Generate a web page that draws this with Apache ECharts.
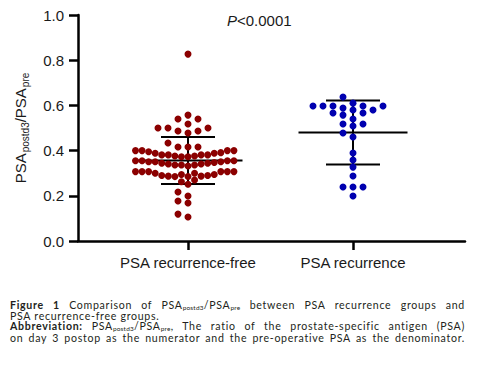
<!DOCTYPE html>
<html>
<head>
<meta charset="utf-8">
<script src="https://cdn.jsdelivr.net/npm/echarts@6/dist/echarts.min.js"></script>
<style>
  html, body { margin: 0; padding: 0; background: #fff; }
  #wrap { position: relative; width: 478px; height: 381px; overflow: hidden; background: #fff; }
  #chart { position: absolute; left: 0; top: 0; width: 478px; height: 381px; }
  #cap { position: absolute; left: 10px; top: 300px; width: 455px; height: 44px; font-family: Lato, "Open Sans", sans-serif;
         font-size: 10.6px; letter-spacing: 0.7px; color: #231f20; }
  #cap .ln { position: absolute; left: 0; width: 455px; height: 10.5px; line-height: 10.5px; white-space: nowrap; }
  #cap .j { text-align: justify; text-align-last: justify; white-space: normal; overflow: visible; }
  #cap .l1 { top: 0px; }
  #cap .l2 { top: 10.7px; }
  #cap .l3 { top: 21.2px; }
  #cap .l4 { top: 32.6px; }
  #cap sub { font-size: 6.5px; vertical-align: -1px; line-height: 0; letter-spacing: 0.2px; }
  #cap b { font-weight: 700; }
</style>
</head>
<body>
<div id="wrap">
  <div id="chart"></div>
  <div id="cap">
    <div class="ln j l1"><b>Figure 1</b> Comparison of PSA<sub>postd3</sub>/PSA<sub>pre</sub> between PSA recurrence groups and</div>
    <div class="ln l2">PSA recurrence-free groups.</div>
    <div class="ln j l3"><b>Abbreviation:</b> PSA<sub>postd3</sub>/PSA<sub>pre</sub>, The ratio of the prostate-specific antigen (PSA)</div>
    <div class="ln j l4">on day 3 postop as the numerator and the pre-operative PSA as the denominator.</div>
  </div>
</div>
<script>
// ---- data ----
const categories = ['PSA recurrence-free', 'PSA recurrence'];

const recurrenceFree = [
  0.827,
  0.557, 0.540, 0.540,
  0.518, 0.500, 0.500, 0.500, 0.487, 0.487, 0.478,
  0.434, 0.416, 0.416, 0.416,
  0.400, 0.400, 0.400, 0.400, 0.395, 0.391, 0.388, 0.388, 0.381, 0.381, 0.381, 0.381, 0.376, 0.376, 0.373, 0.373,
  0.355, 0.355, 0.355, 0.355, 0.351, 0.351, 0.351, 0.347, 0.344, 0.344, 0.341, 0.341, 0.336, 0.336, 0.336, 0.332,
  0.307, 0.307, 0.307, 0.307, 0.307, 0.307, 0.300, 0.300, 0.294, 0.294, 0.290, 0.290, 0.287, 0.287, 0.285, 0.285,
  0.270, 0.262, 0.251,
  0.217, 0.199, 0.177, 0.168, 0.119, 0.106
];

const recurrence = [
  0.637, 0.610,
  0.597, 0.597, 0.597, 0.597, 0.597, 0.588, 0.580, 0.580, 0.566, 0.566, 0.557,
  0.540, 0.518, 0.518, 0.509, 0.478, 0.460,
  0.389, 0.358, 0.327, 0.288, 0.239, 0.239, 0.239, 0.199
];

const groupMean = [0.356, 0.480];
const groupSD = [0.104, 0.142];

const yMin = 0, yMax = 1.0, yStep = 0.2;
const pText = 'P<0.0001';

// ---- layout / style ----
const W = 478, H = 381;
const grid = { left: 78, right: 13, top: 15, bottom: 140 };
const xMin = -0.6667, xMax = 1.6788;
const pxPerX = (W - grid.left - grid.right) / (xMax - xMin);
const pxPerY = (H - grid.top - grid.bottom) / (yMax - yMin);
const FONT = '"Liberation Sans", Arial, sans-serif';
const DOT_GAP = 10;        // px between neighbouring dots
const ROW_H = 6.5;         // px: dots closer than this vertically share a row
const MAX_HALF = 52.5;     // px: widest half-width of a row before it is squeezed

// beeswarm: place each point (ascending) at the nearest free horizontal slot
function swarm(values, d, h) {
  const order = values.map((v, i) => i).sort((a, b) => values[a] - values[b]);
  const placed = [];
  const xs = new Array(values.length);
  const ys = values.map(v => v * pxPerY);
  const step = d / 2;
  for (const i of order) {
    const y = ys[i];
    for (let k = 0; k < 400; k++) {
      const cands = k === 0 ? [0] : [-k * step, k * step];
      let found = null;
      for (const x of cands) {
        const ok = placed.every(p => Math.abs(xs[p] - x) >= d - 1e-6 || Math.abs(ys[p] - y) >= h);
        if (ok) { found = x; break; }
      }
      if (found !== null) { xs[i] = found; placed.push(i); break; }
    }
  }
  // squeeze over-wide rows (connected side-by-side dots) to the column width
  const parent = values.map((v, i) => i);
  const find = a => parent[a] === a ? a : (parent[a] = find(parent[a]));
  for (let a = 0; a < values.length; a++) {
    for (let b = a + 1; b < values.length; b++) {
      if (Math.abs(ys[a] - ys[b]) < h && Math.abs(xs[a] - xs[b]) <= d + 0.01) {
        parent[find(a)] = find(b);
      }
    }
  }
  const half = {};
  values.forEach((v, i) => { const r = find(i); half[r] = Math.max(half[r] || 0, Math.abs(xs[i])); });
  return xs.map((x, i) => {
    const hw = half[find(i)];
    return hw > MAX_HALF ? x * MAX_HALF / hw : x;
  });
}

function swarmData(values, catIndex) {
  const xs = swarm(values, DOT_GAP, ROW_H);
  return values.map((v, i) => [catIndex + xs[i] / pxPerX, v]);
}

const chart = echarts.init(document.getElementById('chart'), null, { renderer: 'svg', width: W, height: H });

const errData = groupMean.map((m, i) => [i, m, groupSD[i]]);

chart.setOption({
  animation: false,
  backgroundColor: '#fff',
  grid: grid,
  xAxis: {
    type: 'value', min: xMin, max: xMax,
    axisLine: { show: true, onZero: false, lineStyle: { color: '#000', width: 2.5 } },
    axisTick: { show: true, customValues: [0, 1], length: 9, lineStyle: { color: '#000', width: 2.5 } },
    axisLabel: { customValues: [0, 1], formatter: v => categories[Math.round(v)] || '',
                 fontSize: 15, color: '#1a1a1a', margin: 14, fontFamily: FONT },
    splitLine: { show: false }
  },
  yAxis: {
    type: 'value', min: yMin, max: yMax, interval: yStep,
    axisLine: { show: true, onZero: false, lineStyle: { color: '#000', width: 2.5 } },
    axisTick: { show: true, length: 9, lineStyle: { color: '#000', width: 2.5 } },
    axisLabel: { formatter: v => v.toFixed(1), fontSize: 15, color: '#1a1a1a', margin: 14, fontFamily: FONT },
    splitLine: { show: false },
    name: '{a|PSA}{s|postd3}{a|/PSA}{s|pre}',
    nameLocation: 'middle', nameGap: 48, nameRotate: 90,
    nameTextStyle: {
      rich: {
        a: { fontSize: 15, color: '#1a1a1a', fontFamily: FONT, lineHeight: 20, verticalAlign: 'middle' },
        s: { fontSize: 10, color: '#1a1a1a', fontFamily: FONT, lineHeight: 10, verticalAlign: 'bottom', padding: [7, 0, 0, 1] }
      }
    }
  },
  graphic: [{
    type: 'text', left: 227, top: 13,
    style: {
      text: '{i|P}{n|' + pText.slice(1) + '}',
      rich: {
        i: { fontSize: 15, fontStyle: 'italic', fontFamily: FONT, fill: '#1a1a1a' },
        n: { fontSize: 15, fontFamily: FONT, fill: '#1a1a1a' }
      }
    }
  }],
  series: [
    {
      type: 'custom', z: 1, data: errData, encode: { x: 0, y: 1 },
      renderItem: function (params, api) {
        const x = api.value(0), m = api.value(1), s = api.value(2);
        const c = api.coord([x, m]);
        const t = api.coord([x, m + s]);
        const b = api.coord([x, m - s]);
        const st = { stroke: '#000', lineWidth: 2 };
        return {
          type: 'group', children: [
            { type: 'line', shape: { x1: c[0] - 54.5, y1: c[1], x2: c[0] + 54.5, y2: c[1] }, style: st },
            { type: 'line', shape: { x1: c[0], y1: t[1], x2: c[0], y2: b[1] }, style: st },
            { type: 'line', shape: { x1: c[0] - 27, y1: t[1], x2: c[0] + 27, y2: t[1] }, style: st },
            { type: 'line', shape: { x1: c[0] - 27, y1: b[1], x2: c[0] + 27, y2: b[1] }, style: st }
          ]
        };
      }
    },
    {
      type: 'scatter', z: 2, name: categories[0], symbolSize: 7,
      itemStyle: { color: '#8b0000', opacity: 1 },
      data: swarmData(recurrenceFree, 0)
    },
    {
      type: 'scatter', z: 2, name: categories[1], symbolSize: 7,
      itemStyle: { color: '#0000b0', opacity: 1 },
      data: swarmData(recurrence, 1)
    }
  ]
});
</script>
</body>
</html>
